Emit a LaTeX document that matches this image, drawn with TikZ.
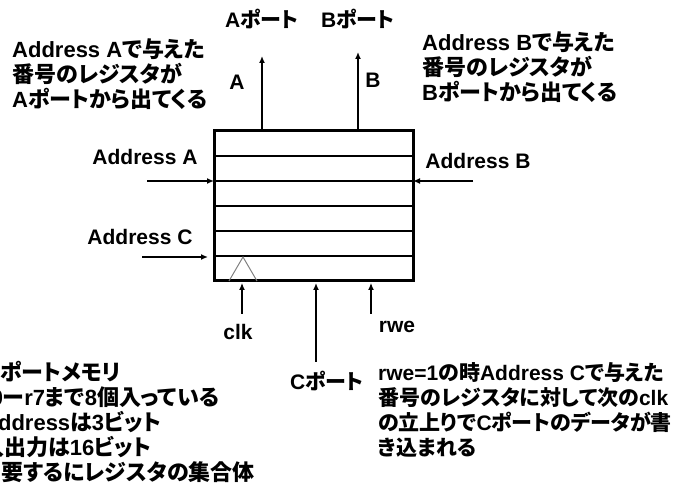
\documentclass[tikz,border=0pt]{standalone}
\usepackage{fontspec}
\setmainfont{Noto Sans CJK JP}[RawFeature=+palt]
\newfontfamily\arialfont{Liberation Sans}
\newcommand{\ltn}[1]{{\arialfont #1}}
\usepackage{tikz}
\usetikzlibrary{arrows.meta}

\tikzset{
  >={Latex[length=7pt,width=6pt]},
  lbl/.style={font=\fontsize{21}{25}\selectfont\bfseries, inner sep=0pt},
  note/.style={font=\fontsize{22}{25}\selectfont\bfseries, inner sep=0pt, align=left, anchor=west},
  bus/.style={->, line width=2.6pt},
  sig/.style={->, line width=1.2pt},
  row/.style={line width=2.8pt}
}

\begin{document}
\begin{tikzpicture}[x=1pt,y=-1pt]
  \useasboundingbox (0,0) rectangle (681,489);

  \node [draw, line width=3pt, minimum width=199pt, minimum height=150pt, inner sep=0pt, outer sep=0pt] (regs) at (313.5,206) {};
  \foreach \k in {1,...,5}
  {
    \draw [row] ([yshift=-\k*25pt]regs.north west) -- ([yshift=-\k*25pt]regs.north east);
  }
  \draw [gray, line width=1pt] (229,281) -- (243,257) -- (257,281);

  \coordinate (atip) at (262,56);
  \coordinate (btip) at (358,52);
  \draw [bus] (regs.north -| atip) -- (atip);
  \draw [bus] (regs.north -| btip) -- (btip);
  \node [lbl] (aport) at (262,19) {\ltn{A}ポート};
  \node [lbl] (bport) at (358,19) {\ltn{B}ポート};
  \node [lbl] (alab) at (237,82) {\ltn{A}};
  \node [lbl] (blab) at (373,80) {\ltn{B}};

  \node [lbl] (addra) at (145,157) {\ltn{Address A}};
  \node [lbl] (addrb) at (478,161) {\ltn{Address B}};
  \node [lbl] (addrc) at (140,237) {\ltn{Address C}};
  \coordinate (ain) at (147,181);
  \coordinate (bin) at (473,181);
  \coordinate (cin) at (142,257);
  \draw [bus] (ain) -- (ain -| regs.west);
  \draw [bus] (bin) -- (bin -| regs.east);
  \draw [bus] (cin) -- ([xshift=-6pt]cin -| regs.west);

  \node [lbl] (clk) at (238,332) {\ltn{clk}};
  \node [lbl] (rwe) at (397,327) {\ltn{rwe}};
  \node [lbl] (cport) at (327,381) {\ltn{C}ポート};
  \coordinate (clkin) at (242,314);
  \coordinate (rwein) at (371,314);
  \coordinate (cin2) at (316,362);
  \draw [sig, shorten >=2pt] (clkin) -- (clkin |- regs.south);
  \draw [sig, shorten >=2pt] (rwein) -- (rwein |- regs.south);
  \draw [bus, shorten >=2pt] (cin2) -- (cin2 |- regs.south);

  \node [note] (notea) at (12,74) {\ltn{Address A}で与えた\\番号のレジスタが\\\ltn{A}ポートから出てくる};
  \node [note] (noteb) at (422,67) {\ltn{Address B}で与えた\\番号のレジスタが\\\ltn{B}ポートから出てくる};
  \node [note, font=\fontsize{21}{25}\selectfont\bfseries] (notew) at (378,410) {\ltn{rwe=1}の時\ltn{Address C}で与えた\\番号のレジスタに対して次の\ltn{clk}\\の立上りで\ltn{C}ポートのデータが書\\き込まれる};

  \foreach \xs/\ys/\txt in {-12/372/\ltn{3}ポートメモリ, -18/397/\ltn{r0}ー\ltn{r7}まで\ltn{8}個入っている, -18/422/\ltn{Address}は\ltn{3}ビット, -18/447/入出力は\ltn{16}ビット, 1/472/要するにレジスタの集合体}
  {
    \node [note] (memo\ys) at (\xs,\ys) {\txt};
  }
\end{tikzpicture}
\end{document}
